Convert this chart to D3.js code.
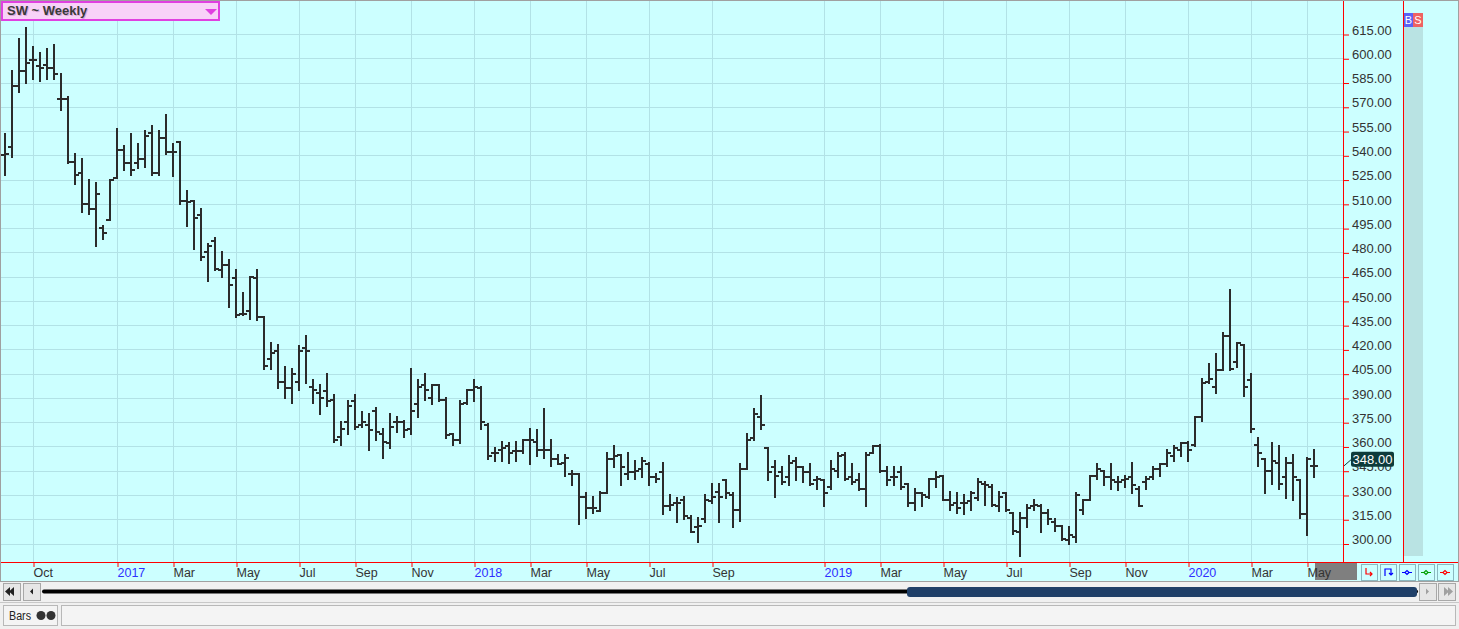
<!DOCTYPE html>
<html>
<head>
<meta charset="utf-8">
<script src="https://cdn.jsdelivr.net/npm/d3@7"></script>
<style>
  html, body { margin: 0; padding: 0; background: #f0f0f0; overflow: hidden; }
  svg { display: block; font-family: "Liberation Sans", Arial, sans-serif; }
</style>
</head>
<body>
<svg id="chart" width="1459" height="629"></svg>
<script>
// weekly OHLC bars, one entry per week
const opens = [540,545,583,592,599,595,596,594,575,575,536,529,510,507,495,500,526,543,535,535,
  538,554,529,551,542,548,512,512,503,480,487,469,472,464,442,444,464,440,414,419,
  400,396,400,421,397,393,394,389,366,375,388,373,373,382,368,362,375,375,371,386,
  398,390,398,389,368,364,387,395,396,373,356,358,360,357,357,364,363,358,358,352,
  350,343,343,329,322,320,331,352,355,343,344,346,349,341,344,323,325,327,316,310,
  315,326,332,339,330,321,346,365,378,359,347,344,341,351,347,344,339,339,335,345,
  355,341,339,334,356,360,345,341,344,337,325,331,329,340,342,327,325,325,326,328,
  337,335,323,331,319,307,316,323,323,319,313,311,302,304,321,327,342,345,341,338,
  339,341,334,338,341,346,349,354,358,362,361,378,400,397,407,428,412,423,401,361,
  352,345,350,341,350,339,318,348];
const highs = [553,592,612,619,607,603,606,608,590,576,541,538,525,523,496,525,556,546,553,547,
  555,558,555,565,547,548,518,512,507,485,489,480,475,469,455,465,469,440,424,423,
  409,408,422,428,401,398,405,392,375,388,392,381,380,384,371,380,378,376,408,401,
  405,398,398,390,368,388,395,401,397,374,359,363,362,363,364,371,370,383,364,355,
  355,345,343,331,329,332,356,360,355,356,351,353,350,343,350,330,328,329,317,316,
  330,337,337,339,331,349,368,383,391,359,351,347,354,353,347,349,341,339,351,356,
  356,349,343,356,360,361,347,347,347,337,334,331,340,344,342,332,331,330,332,340,
  338,336,332,331,319,319,324,327,324,321,315,311,310,331,327,342,349,345,349,341,
  342,350,335,341,347,349,358,360,362,363,378,402,411,417,430,457,424,423,405,365,
  352,362,360,353,355,339,353,358];
const lows = [528,539,579,585,587,586,587,587,568,535,522,505,504,484,488,500,526,531,528,532,
  533,528,528,541,527,510,496,482,475,462,469,465,446,440,441,439,438,408,408,396,
  390,387,395,399,387,380,385,363,361,368,371,372,358,364,353,359,369,366,368,378,
  389,386,388,365,361,362,386,388,371,352,351,351,350,351,356,349,354,353,348,349,
  342,336,312,316,319,320,331,347,336,340,340,341,336,338,318,321,313,315,307,301,
  313,325,313,328,310,314,346,364,371,339,329,337,336,339,338,336,334,323,334,341,
  339,337,333,323,356,344,336,336,334,323,321,323,328,335,327,321,319,318,321,327,
  324,323,320,320,306,292,310,321,307,312,308,302,300,301,318,327,340,336,334,333,
  335,331,323,334,340,342,348,351,354,351,360,376,399,393,407,407,409,391,369,348,
  331,337,334,328,327,316,305,341];
const closes = [541,583,592,597,599,594,594,590,575,536,528,510,507,516,492,525,543,535,531,538,
  552,529,551,542,542,512,511,501,477,484,470,472,460,441,442,465,440,410,418,400,
  396,405,419,419,395,390,388,364,371,385,372,375,370,369,363,372,375,370,382,397,
  395,398,389,367,364,386,395,397,375,354,356,359,356,357,364,364,358,358,352,349,
  353,343,329,322,322,331,352,354,347,344,345,351,341,340,323,324,325,317,307,311,
  327,329,329,331,321,346,364,380,373,344,342,338,350,347,344,337,340,331,346,354,
  340,338,334,355,360,345,339,341,335,325,331,330,340,341,327,324,322,325,331,338,
  336,324,329,321,308,316,322,324,319,315,311,303,305,330,327,342,346,341,339,338,
  340,336,323,340,346,349,356,359,362,358,378,399,402,407,428,408,424,397,371,356,
  345,351,337,350,341,318,352,348];

// month ticks: index of the first weekly bar of the month, and its label
const tickIdx = [4,16,24,33,42,50,58,67,75,83,92,101,117,125,134,143,152,160,169,178,186];
const tickLabels = ['Oct','2017','Mar','May','Jul','Sep','Nov','2018','Mar','May','Jul','Sep',
  '2019','Mar','May','Jul','Sep','Nov','2020','Mar','May'];

const priceTicks = [300,315,330,345,360,375,390,405,420,435,450,465,480,495,510,525,540,555,570,585,600,615];
const lastPrice = 348;

const data = opens.map((o, i) => ({ i: i, o: o, h: highs[i], l: lows[i], c: closes[i] }));

const W = 1459, H = 629;
const plotR = 1343, plotB = 562;

const svg = d3.select('#chart');

// scales
const x = d3.scaleLinear().domain([0, data.length - 1]).range([5, 5 + 7 * (data.length - 1)]);
const y = d3.scaleLinear().domain([300, 615]).range([543.5, 34]);
const py = v => Math.round(y(v));

// background
svg.append('rect').attr('width', W).attr('height', 582).attr('fill', '#ccffff');

// grid
const grid = svg.append('g');
grid.selectAll('line.h')
  .data(priceTicks)
  .enter()
  .append('line')
  .attr('x1', 0).attr('x2', plotR)
  .attr('y1', d => py(d) + 0.5).attr('y2', d => py(d) + 0.5)
  .attr('stroke', '#b2e2e6').attr('stroke-width', 1);
grid.selectAll('line.v')
  .data(tickIdx)
  .enter()
  .append('line')
  .attr('x1', d => x(d) + 0.5).attr('x2', d => x(d) + 0.5)
  .attr('y1', 0).attr('y2', plotB)
  .attr('stroke', '#b2e2e6').attr('stroke-width', 1);

// OHLC bars
const bars = svg.append('g').attr('stroke', '#2b2b2b').attr('stroke-width', 2);
bars.selectAll('line.hl')
  .data(data)
  .enter()
  .append('line')
  .attr('x1', d => x(d.i)).attr('x2', d => x(d.i))
  .attr('y1', d => py(d.h) - 1).attr('y2', d => py(d.l) + 1);
bars.selectAll('line.o')
  .data(data)
  .enter()
  .append('line')
  .attr('x1', d => x(d.i) - 4).attr('x2', d => x(d.i))
  .attr('y1', d => py(d.o)).attr('y2', d => py(d.o));
bars.selectAll('line.c')
  .data(data)
  .enter()
  .append('line')
  .attr('x1', d => x(d.i)).attr('x2', d => x(d.i) + 4)
  .attr('y1', d => py(d.c)).attr('y2', d => py(d.c));

// right price axis
const yAxis = svg.append('g')
  .attr('transform', 'translate(' + plotR + ',0)')
  .call(d3.axisRight(y).tickValues(priceTicks).tickFormat(d3.format('.2f')).tickSize(6));
yAxis.select('.domain').remove();
yAxis.selectAll('.tick line').attr('stroke', '#ff0000').attr('transform', 'translate(0,0.5)');
yAxis.selectAll('.tick text')
  .attr('x', 9).attr('y', -4)
  .attr('fill', '#333').style('font-size', '13px')
  .style('font-family', '"Liberation Sans", Arial, sans-serif');

// gray marker box behind last month label
svg.append('rect')
  .attr('x', 1315).attr('y', 563).attr('width', 42).attr('height', 17).attr('fill', '#7f7f7f');

// bottom date axis
const xAxis = svg.append('g')
  .attr('transform', 'translate(0,' + plotB + ')')
  .call(d3.axisBottom(x).tickValues(tickIdx).tickFormat((d, k) => tickLabels[k]).tickSize(5));
xAxis.select('.domain').remove();
xAxis.selectAll('.tick line').attr('stroke', '#ff0000').attr('transform', 'translate(0.5,0)');
xAxis.selectAll('.tick text')
  .attr('text-anchor', 'start').attr('x', 0).attr('y', 6)
  .attr('fill', (d, k) => /^\d{4}$/.test(tickLabels[k]) ? '#2f2fff' : '#333')
  .style('font-size', '12.5px')
  .style('font-family', '"Liberation Sans", Arial, sans-serif');

// frame lines
svg.append('line').attr('x1', plotR + 0.5).attr('x2', plotR + 0.5).attr('y1', 0).attr('y2', plotB)
  .attr('stroke', '#ff0000');
svg.append('line').attr('x1', 1403.5).attr('x2', 1403.5).attr('y1', 0).attr('y2', plotB)
  .attr('stroke', '#ff0000');
svg.append('line').attr('x1', 0).attr('x2', W).attr('y1', plotB + 0.5).attr('y2', plotB + 0.5)
  .attr('stroke', '#ff0000');

// B / S column
svg.append('rect').attr('x', 1404).attr('y', 27).attr('width', 19).attr('height', 529).attr('fill', '#b9e3e3');
svg.append('rect').attr('x', 1404).attr('y', 13).attr('width', 9).attr('height', 14).attr('fill', '#5b63f5');
svg.append('rect').attr('x', 1413).attr('y', 13).attr('width', 10).attr('height', 14).attr('fill', '#ef6262');
svg.append('text').attr('x', 1408.5).attr('y', 24).attr('text-anchor', 'middle')
  .attr('fill', '#fff').style('font-size', '11px').text('B');
svg.append('text').attr('x', 1418).attr('y', 24).attr('text-anchor', 'middle')
  .attr('fill', '#fff').style('font-size', '11px').text('S');

// last price label (covers part of the 345.00 tick label, as in the original)
const ly = y(lastPrice);
svg.append('line').attr('x1', plotR + 1).attr('y1', ly).attr('x2', 1352).attr('y2', ly - 7)
  .attr('stroke', '#0d3b3b').attr('stroke-width', 1);
svg.append('rect').attr('x', 1351).attr('y', ly - 14).attr('width', 43).attr('height', 15)
  .attr('rx', 2).attr('fill', '#0d3b3b');
svg.append('text').attr('x', 1372.5).attr('y', ly - 2).attr('text-anchor', 'middle')
  .attr('fill', '#ffffff').style('font-size', '13px').text(d3.format('.2f')(lastPrice));

// title box
svg.append('rect').attr('x', 2).attr('y', 2).attr('width', 217).attr('height', 18)
  .attr('fill', '#f8d2f8').attr('stroke', '#e040e0').attr('stroke-width', 2);
svg.append('text').attr('x', 8).attr('y', 16).attr('fill', '#d9a8d9')
  .style('font-size', '13px').style('font-weight', 'bold').text('SW ~ Weekly');
svg.append('text').attr('x', 7).attr('y', 15).attr('fill', '#3a3a3a')
  .style('font-size', '13px').style('font-weight', 'bold').text('SW ~ Weekly');
svg.append('path').attr('d', 'M205,9 L217,9 L211,15 Z').attr('fill', '#e040e0');

// outer border
svg.append('rect').attr('x', 0.5).attr('y', 0.5).attr('width', W - 1).attr('height', 581)
  .attr('fill', 'none').attr('stroke', '#a0a0a0');

// small tool buttons bottom right
const btnX = [1361, 1380, 1399, 1418, 1437];
const btnC = ['#ff0000', '#0000ff', '#0000ff', '#00a000', '#ff0000'];
btnX.forEach((bx, k) => {
  svg.append('rect').attr('x', bx + 0.5).attr('y', 564.5).attr('width', 16).attr('height', 16)
    .attr('fill', '#ccffff').attr('stroke', '#8ab8c0');
  let p;
  if (k === 0) p = 'M' + (bx + 5) + ',568 V574 H' + (bx + 11) + ' M' + (bx + 9) + ',572 L' + (bx + 11) + ',574 L' + (bx + 9) + ',576';
  else if (k === 1) p = 'M' + (bx + 5) + ',576 V569 H' + (bx + 11) + ' V575 M' + (bx + 9) + ',573 L' + (bx + 11) + ',575 L' + (bx + 13) + ',573';
  else p = 'M' + (bx + 3) + ',572.5 H' + (bx + 6) + ' L' + (bx + 8) + ',570.5 L' + (bx + 10) + ',572.5 H' + (bx + 13) +
    ' M' + (bx + 3) + ',572.5 H' + (bx + 6) + ' L' + (bx + 8) + ',574.5 L' + (bx + 10) + ',572.5';
  svg.append('path').attr('d', p).attr('fill', 'none').attr('stroke', btnC[k]).attr('stroke-width', 1.2);
});

// scroll bar area
const sb = svg.append('g');
sb.append('rect').attr('x', 0).attr('y', 582).attr('width', W).attr('height', 47).attr('fill', '#f0f0f0');
[[3, 'M14,587 L9,591.5 L14,596 Z M10,587 L5,591.5 L10,596 Z'], [23, 'M33,588.5 L30,591.5 L33,594.5 Z'],
 [1419, 'M1426,588.5 L1429,591.5 L1426,594.5 Z'], [1438, 'M1444,587 L1449,591.5 L1444,596 Z M1448,587 L1453,591.5 L1448,596 Z']]
  .forEach(b => {
    sb.append('rect').attr('x', b[0] + 0.5).attr('y', 583.5).attr('width', 17).attr('height', 17)
      .attr('fill', '#e6e6e6').attr('stroke', '#a8a8a8');
    sb.append('path').attr('d', b[1]).attr('fill', b[0] > 1400 ? '#a0a0a0' : '#222');
  });
sb.append('rect').attr('x', 42).attr('y', 589.5).attr('width', 1376).attr('height', 4).attr('rx', 2).attr('fill', '#000');
sb.append('rect').attr('x', 907).attr('y', 587).attr('width', 510).attr('height', 10).attr('rx', 3).attr('fill', '#1f3f68');
sb.append('line').attr('x1', 0).attr('x2', W).attr('y1', 602.5).attr('y2', 602.5).attr('stroke', '#c8c8c8');

// status bar
sb.append('rect').attr('x', 3.5).attr('y', 605.5).attr('width', 54).attr('height', 20)
  .attr('fill', '#f4f4f4').attr('stroke', '#b8b8b8');
sb.append('text').attr('x', 9).attr('y', 620).attr('fill', '#222').style('font-size', '12px')
  .attr('textLength', 22).attr('lengthAdjust', 'spacingAndGlyphs').text('Bars');
sb.append('circle').attr('cx', 41).attr('cy', 615.5).attr('r', 4.5).attr('fill', '#333');
sb.append('circle').attr('cx', 51).attr('cy', 615.5).attr('r', 4.5).attr('fill', '#333');
sb.append('rect').attr('x', 61.5).attr('y', 605.5).attr('width', 1394).attr('height', 20)
  .attr('fill', '#f4f4f4').attr('stroke', '#b8b8b8');
</script>
</body>
</html>
